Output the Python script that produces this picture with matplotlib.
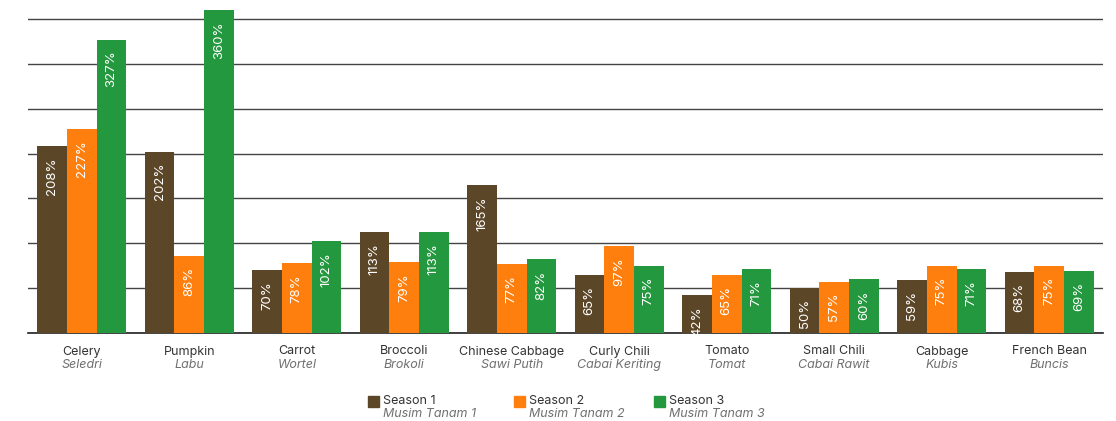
import numpy as np
import matplotlib
matplotlib.use("Agg")
import matplotlib.pyplot as plt
from matplotlib.patches import Rectangle

plt.rcParams["font.family"] = ["Inter", "DejaVu Sans"]

crops_en = ["Celery", "Pumpkin", "Carrot", "Broccoli", "Chinese Cabbage",
            "Curly Chili", "Tomato", "Small Chili", "Cabbage", "French Bean"]
crops_id = ["Seledri", "Labu", "Wortel", "Brokoli", "Sawi Putih",
            "Cabai Keriting", "Tomat", "Cabai Rawit", "Kubis", "Buncis"]

season1 = [208, 202, 70, 113, 165, 65, 42, 50, 59, 68]
season2 = [227, 86, 78, 79, 77, 97, 65, 57, 75, 75]
season3 = [327, 360, 102, 113, 82, 75, 71, 60, 71, 69]

series_en = ["Season 1", "Season 2", "Season 3"]
series_id = ["Musim Tanam 1", "Musim Tanam 2", "Musim Tanam 3"]
colors = ["#5c4628", "#ff7f0e", "#24983f"]

fig = plt.figure(figsize=(11.16, 4.21), dpi=100)
ax = fig.add_axes([28 / 1116, 88 / 421, 1075 / 1116, 323 / 421])

x = np.arange(len(crops_en))
w = 0.275
for i, vals in enumerate([season1, season2, season3]):
    bars = ax.bar(x + (i - 1) * w, vals, width=w, color=colors[i], zorder=3)
    for b, v in zip(bars, vals):
        ax.annotate(f"{v}%", (b.get_x() + b.get_width() / 2, v),
                    xytext=(0, -8), textcoords="offset points",
                    ha="center", va="top", rotation=90,
                    color="white", fontsize=9.5, zorder=4)

ax.set_xlim(-0.5, len(crops_en) - 0.5)
ax.set_ylim(0, 360)
ax.set_yticks(range(0, 351, 50))
ax.set_yticklabels([])
ax.yaxis.grid(True, color="#444444", linewidth=1)
ax.axhline(0, color="#222222", linewidth=1.2, zorder=2, clip_on=False)
ax.set_axisbelow(True)
ax.tick_params(axis="both", length=0)
for s in ax.spines.values():
    s.set_visible(False)

ax.set_xticks(x)
ax.set_xticklabels(crops_en, fontsize=9, color="#333333")
ax.tick_params(axis="x", pad=9)
for xi, name in zip(x, crops_id):
    ax.text(xi, -0.1, name, transform=ax.get_xaxis_transform(),
            ha="center", va="center", fontsize=9, style="italic", color="#707070")

# legend
legend_x = [368, 514, 654]
for lx, c, en, idn in zip(legend_x, colors, series_en, series_id):
    fig.patches.append(Rectangle((lx / 1116, (421 - 407) / 421), 11 / 1116, 11 / 421,
                                 transform=fig.transFigure, color=c))
    fig.text((lx + 15) / 1116, (421 - 401) / 421, en, fontsize=9,
             color="#333333", va="center")
    fig.text((lx + 15) / 1116, (421 - 414) / 421, idn, fontsize=9,
             color="#707070", style="italic", va="center")

fig.savefig("out.png", dpi=100)
